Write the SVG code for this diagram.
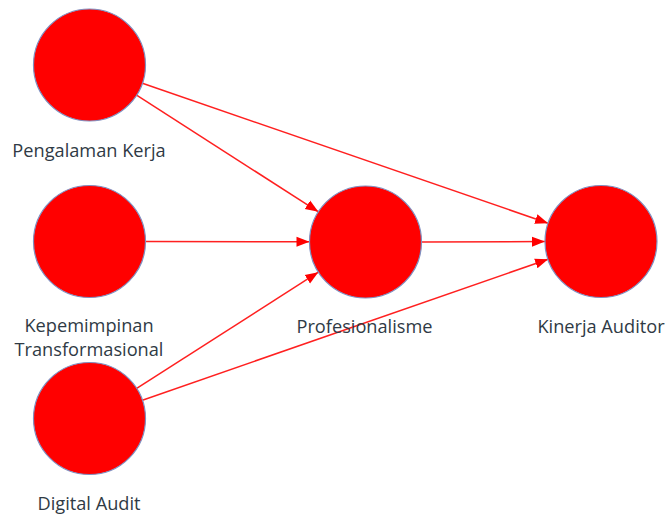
<svg xmlns="http://www.w3.org/2000/svg" width="666" height="516" viewBox="0 0 666 516">
<defs>
<marker id="arr" markerUnits="userSpaceOnUse" markerWidth="14" markerHeight="12" refX="13" refY="6" orient="auto">
<path d="M0,1 L13,6 L0,11 Z" fill="#ff0000"/>
</marker>
<style>
.n{fill:#ff0000;stroke:#7f8fc0;stroke-width:1.2}
.e{stroke:#ff2020;stroke-width:1.5;fill:none;marker-end:url(#arr)}
.t{font-family:"Open Sans","Noto Sans","Liberation Sans",sans-serif;font-size:18.2px;fill:#2f3a45;text-anchor:middle}
</style>
</defs>
<rect width="666" height="516" fill="#ffffff"/>
<g id="connectors">
<line class="e" x1="136.6" y1="95.2" x2="318.4" y2="211.8"/>
<line class="e" x1="142.4" y1="83.3" x2="548.1" y2="223.2"/>
<line class="e" x1="146" y1="241.5" x2="309.5" y2="241.8"/>
<line class="e" x1="421.5" y1="242" x2="545" y2="241.6"/>
<line class="e" x1="136.7" y1="388.3" x2="318.3" y2="272.2"/>
<line class="e" x1="142.4" y1="400.2" x2="548.1" y2="259.2"/>
</g>
<g id="pengalaman">
<circle class="n" cx="89.5" cy="65" r="56"/>
<text class="t" x="89" y="157">Pengalaman Kerja</text>
</g>
<g id="kepemimpinan">
<circle class="n" cx="89.5" cy="241.5" r="56"/>
<text class="t" x="89" y="332">Kepemimpinan</text>
<text class="t" x="89" y="356">Transformasional</text>
</g>
<g id="digital">
<circle class="n" cx="89.5" cy="418.5" r="56"/>
<text class="t" x="89" y="510">Digital Audit</text>
</g>
<g id="profesionalisme">
<circle class="n" cx="365.5" cy="242" r="56"/>
<text class="t" x="364.5" y="333">Profesionalisme</text>
</g>
<g id="kinerja">
<circle class="n" cx="601" cy="241.5" r="56"/>
<text class="t" x="601" y="333">Kinerja Auditor</text>
</g>
</svg>
